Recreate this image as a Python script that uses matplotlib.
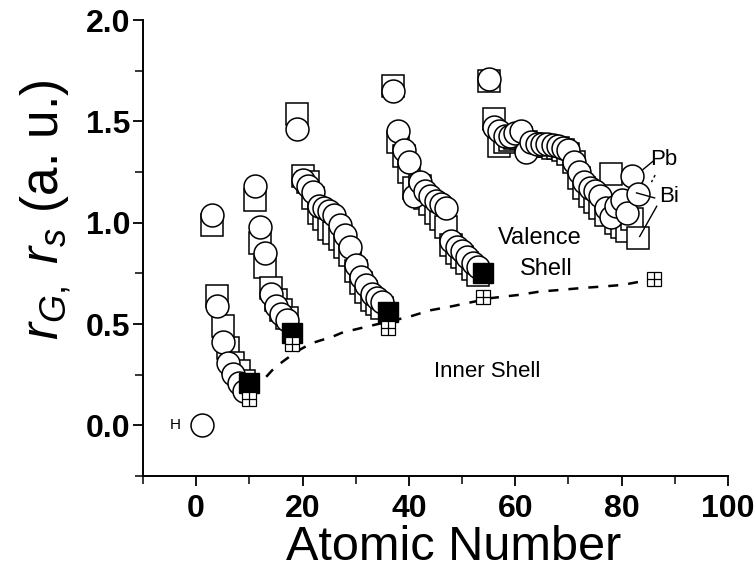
import matplotlib
matplotlib.use('Agg')
import matplotlib.pyplot as plt
from matplotlib.ticker import MultipleLocator
import numpy as np

plt.rcParams['font.family'] = ['Liberation Sans', 'DejaVu Sans']
plt.rcParams['mathtext.fontset'] = 'custom'
plt.rcParams['mathtext.rm'] = 'Liberation Sans'
plt.rcParams['mathtext.it'] = 'Liberation Sans:italic'

# ---- data ----
Z_circ = [1,
          3, 4, 5, 6, 7, 8, 9,
          11, 12, 13, 14, 15, 16, 17,
          19, 20, 21, 22, 23, 24, 25, 26, 27, 28, 29, 30, 31, 32, 33, 34, 35,
          37, 38, 39, 40, 41, 42, 43, 44, 45, 46, 47, 48, 49, 50, 51, 52, 53,
          55, 56, 57, 58, 59, 60, 61, 62, 63, 64, 65, 66, 67, 68, 69, 70,
          71, 72, 73, 74, 75, 76, 77, 78, 79, 80, 81, 82, 83]
rG = [0.0,
      1.04, 0.59, 0.41, 0.31, 0.255, 0.21, 0.17,
      1.18, 0.98, 0.85, 0.65, 0.59, 0.55, 0.52,
      1.46, 1.21, 1.18, 1.15, 1.08, 1.07, 1.06, 1.04, 0.99, 0.94, 0.88, 0.79, 0.73, 0.69, 0.65, 0.63, 0.61,
      1.65, 1.45, 1.36, 1.30, 1.13, 1.20, 1.155, 1.13, 1.105, 1.09, 1.07, 0.91, 0.88, 0.86, 0.83, 0.80, 0.78,
      1.71, 1.47, 1.45, 1.43, 1.43, 1.44, 1.45, 1.35, 1.40, 1.39, 1.39, 1.39, 1.385, 1.38, 1.37, 1.36,
      1.30, 1.25, 1.20, 1.17, 1.155, 1.13, 1.07, 1.03, 1.08, 1.11, 1.05, 1.23, 1.14]

Z_sq = [3, 4, 5, 6, 7, 8, 9,
        11, 12, 13, 14, 15, 16, 17,
        19, 20, 21, 22, 23, 24, 25, 26, 27, 28, 29, 30, 31, 32, 33, 34, 35,
        37, 38, 39, 40, 41, 42, 43, 44, 45, 46, 47, 48, 49, 50, 51, 52, 53,
        55, 56, 57, 58, 59, 60, 61, 62, 63, 64, 65, 66, 67, 68, 69, 70,
        71, 72, 73, 74, 75, 76, 77, 78, 79, 80, 81, 82, 83]
rS = [0.99, 0.64, 0.49, 0.38, 0.31, 0.27, 0.22,
      1.11, 0.90, 0.78, 0.68, 0.62, 0.57, 0.53,
      1.535, 1.23, 1.20, 1.12, 1.05, 1.02, 0.97, 0.95, 0.92, 0.88, 0.84, 0.76, 0.70, 0.66, 0.62, 0.60, 0.58,
      1.675, 1.40, 1.33, 1.25, 1.17, 1.18, 1.12, 1.09, 1.05, 1.02, 0.98, 0.89, 0.85, 0.83, 0.80, 0.77, 0.74,
      1.70, 1.51, 1.38, 1.40, 1.41, 1.42, 1.42, 1.40, 1.39, 1.38, 1.38, 1.38, 1.37, 1.37, 1.36, 1.34,
      1.30, 1.22, 1.17, 1.13, 1.10, 1.07, 1.04, 1.24, 1.00, 0.98, 0.96, 1.02, 0.925]

noble_Z = [10, 18, 36, 54]
noble_r = [0.21, 0.455, 0.56, 0.75]

inner_Z = [10, 18, 36, 54, 86]
inner_r = [0.13, 0.40, 0.48, 0.635, 0.72]

curve_Z = [10.5, 12.6, 14.3, 16.2, 18.8, 21.6, 23.5, 25.6, 27.6, 29.4, 32.6,
           40.1, 43.9, 48.2, 55.5, 60.8, 64.6, 68.4, 72.7, 76.5, 80.2, 85.3]
curve_r = [0.17, 0.223, 0.272, 0.313, 0.363, 0.404, 0.42, 0.437, 0.459, 0.47, 0.49,
           0.536, 0.567, 0.588, 0.628, 0.644, 0.66, 0.668, 0.678, 0.685, 0.693, 0.718]

xticks = [0, 20, 40, 60, 80, 100]
yticks = [0.0, 0.5, 1.0, 1.5, 2.0]

# ---- figure ----
W, H = 756, 573
fig = plt.figure(figsize=(W / 100, H / 100), dpi=100)
ax = fig.add_axes([143 / W, 1 - 476 / H, (728 - 143) / W, (476 - 20) / H])

ax.plot(Z_sq, rS, linestyle='none', marker='s', markersize=15.5,
        mfc='white', mec='black', mew=1.1, zorder=2)
ax.plot(Z_circ, rG, linestyle='none', marker='o', markersize=16.5,
        mfc='white', mec='black', mew=1.1, zorder=3)
ax.plot(curve_Z, curve_r, color='black', lw=1.8, linestyle=(0, (4, 4)), zorder=4)
ax.plot(noble_Z, noble_r, linestyle='none', marker='s', markersize=14.5,
        mfc='black', mec='black', mew=1.0, zorder=5)
ax.plot(inner_Z, inner_r, linestyle='none', marker='s', markersize=9.5,
        mfc='white', mec='black', mew=0.9, zorder=5)
ax.plot(inner_Z, inner_r, linestyle='none', marker='+', markersize=9.5,
        mec='black', mew=0.9, zorder=6)

# annotations
ax.text(-4.0, 0.0, 'H', fontsize=11, ha='center', va='center')
ax.text(88.0, 1.31, 'Pb', fontsize=16, ha='center', va='center')
ax.text(88.9, 1.13, 'Bi', fontsize=16, ha='center', va='center')
ax.plot([84.0, 85.9], [1.262, 1.303], color='black', lw=1.0, zorder=7)
ax.plot([82.8, 86.2], [1.147, 1.122], color='black', lw=1.0, zorder=7)
ax.plot([86.6, 83.4], [1.081, 0.932], color='black', lw=1.0, zorder=7)
ax.plot([86.3, 85.6], [1.235, 1.200], color='black', lw=1.0, linestyle=(0, (2, 2)), zorder=7)
ax.text(64.6, 0.925, 'Valence', fontsize=17, ha='center', va='center')
ax.text(65.9, 0.77, 'Shell', fontsize=17, ha='center', va='center')
ax.text(54.8, 0.265, 'Inner Shell', fontsize=16, ha='center', va='center')

ax.set_xlim(-10, 100)
ax.set_ylim(-0.25, 2.0)
ax.set_xticks(xticks)
ax.set_yticks(yticks)
ax.set_xticklabels([str(t) for t in xticks])
ax.set_yticklabels(['%.1f' % t for t in yticks])
ax.xaxis.set_minor_locator(MultipleLocator(10))
ax.yaxis.set_minor_locator(MultipleLocator(0.25))

for s in ['top', 'right']:
    ax.spines[s].set_visible(False)
for s in ['left', 'bottom']:
    ax.spines[s].set_linewidth(1.4)

ax.tick_params(which='major', direction='out', length=7, width=1.3,
               labelsize=23)
ax.tick_params(axis='y', which='major', pad=2)
ax.tick_params(axis='x', which='major', pad=6)
ax.tick_params(which='minor', direction='out', length=6, width=1.1)
for lab in ax.get_xticklabels() + ax.get_yticklabels():
    lab.set_fontweight('bold')

fig.text(454 / W, 1 - 548 / H, 'Atomic Number', fontsize=35,
         ha='center', va='center')
fig.text(46 / W, 1 - 210 / H, r'$r_{G,}\ r_{s}$ (a. u.)', fontsize=37,
         ha='center', va='center', rotation=90)

fig.savefig('out.png', dpi=100)
